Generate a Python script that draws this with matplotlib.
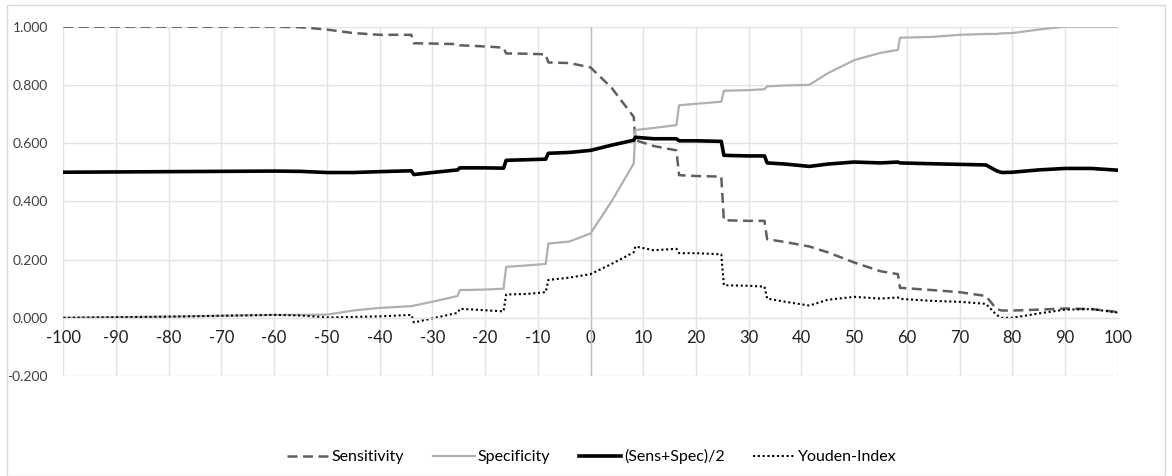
import matplotlib
matplotlib.use("Agg")
import matplotlib.pyplot as plt
from matplotlib.patches import Rectangle
import numpy as np

plt.rcParams['font.family'] = ['Lato', 'DejaVu Sans']

# Schwellenwerte (x) und die vier Kurven
x = [-100, -90, -80, -70, -60, -55, -50, -45, -40, -34, -33.5, -30, -25.2, -24.8,
     -20, -16.5, -16, -12, -8.5, -8, -4, 0, 4, 8.2, 8.5, 12, 16.3, 16.8, 20,
     24.8, 25.3, 30, 33, 33.5, 37, 41.5, 45, 50, 55, 58.3, 58.7, 65, 70, 75,
     77, 78, 80, 85, 90, 95, 100]

sensitivity = [1.0, 1.0, 1.0, 1.0, 1.0, 0.998, 0.99, 0.978, 0.972, 0.972, 0.943,
               0.942, 0.94, 0.936, 0.932, 0.928, 0.908, 0.907, 0.905, 0.877,
               0.875, 0.86, 0.79, 0.69, 0.61, 0.59, 0.575, 0.49, 0.487, 0.485,
               0.335, 0.333, 0.333, 0.27, 0.26, 0.245, 0.225, 0.19, 0.16, 0.15,
               0.103, 0.095, 0.088, 0.075, 0.03, 0.025, 0.025, 0.028, 0.032,
               0.03, 0.02]

specificity = [0.0, 0.002, 0.004, 0.007, 0.01, 0.01, 0.011, 0.025, 0.034, 0.04,
               0.042, 0.055, 0.075, 0.095, 0.097, 0.1, 0.175, 0.18, 0.185, 0.255,
               0.262, 0.29, 0.4, 0.53, 0.645, 0.652, 0.662, 0.73, 0.735, 0.742,
               0.78, 0.782, 0.785, 0.795, 0.798, 0.8, 0.84, 0.885, 0.91, 0.92,
               0.962, 0.965, 0.972, 0.975, 0.975, 0.977, 0.978, 0.99, 1.0, 1.0,
               1.0]

sens_spec_mean = [0.500, 0.501, 0.502, 0.503, 0.504, 0.503, 0.499, 0.499, 0.502,
                  0.505, 0.492, 0.499, 0.508, 0.515, 0.515, 0.514, 0.541, 0.543,
                  0.545, 0.565, 0.568, 0.575, 0.593, 0.61, 0.62, 0.615, 0.615,
                  0.608, 0.608, 0.606, 0.558, 0.556, 0.556, 0.532, 0.528, 0.52,
                  0.528, 0.535, 0.532, 0.535, 0.532, 0.529, 0.527, 0.525, 0.505,
                  0.499, 0.500, 0.508, 0.513, 0.513, 0.507]

youden = [0.0, 0.002, 0.004, 0.007, 0.01, 0.008, 0.001, 0.003, 0.005, 0.01,
          -0.016, -0.002, 0.017, 0.031, 0.026, 0.022, 0.08, 0.082, 0.088, 0.13,
          0.138, 0.15, 0.185, 0.225, 0.245, 0.232, 0.237, 0.222, 0.222, 0.218,
          0.112, 0.11, 0.107, 0.066, 0.055, 0.042, 0.062, 0.072, 0.066, 0.07,
          0.065, 0.058, 0.055, 0.048, 0.01, 0.0, 0.0, 0.015, 0.028, 0.03, 0.018]

x_ticks = list(range(-100, 101, 10))
y_ticks = [-0.2, 0.0, 0.2, 0.4, 0.6, 0.8, 1.0]

fig = plt.figure(figsize=(11.72, 4.76), dpi=100)
ax = fig.add_axes([0.054, 0.210, 0.8997, 0.734])

# Rahmen um das gesamte Diagramm
fig.patches.append(Rectangle((0.006, 0.0), 0.988, 0.99, transform=fig.transFigure,
                             fill=False, edgecolor='#d9d9d9', linewidth=1.0))

ax.plot(x, sensitivity, color='#5f5f5f', linewidth=1.8, linestyle=(0, (4, 2.2)),
        label='Sensitivity')
ax.plot(x, specificity, color='#b0b0b0', linewidth=1.6, label='Specificity')
ax.plot(x, sens_spec_mean, color='black', linewidth=2.6, label='(Sens+Spec)/2')
ax.plot(x, youden, color='black', linewidth=1.5, linestyle=(0, (1, 1.3)),
        label='Youden-Index')

# x-Achse liegt auf y=0 (vor dem Setzen der Beschriftung, sonst werden Ticks zurückgesetzt)
for side in ['top', 'right', 'left']:
    ax.spines[side].set_visible(False)
ax.spines['bottom'].set_position(('data', 0))
ax.spines['bottom'].set_color('#dfe3ea')

ax.set_xlim(-100, 100)
ax.set_ylim(-0.2, 1.0)
ax.set_xticks(x_ticks)
ax.set_yticks(y_ticks)
ax.set_yticklabels([f"{v:.3f}" for v in y_ticks])
ax.set_xticklabels([str(v) for v in x_ticks])
ax.tick_params(axis='both', length=0)
ax.tick_params(axis='x', pad=9, labelsize=12, labelcolor='#202020')
ax.tick_params(axis='y', pad=11, labelsize=10, labelcolor='#404040')

ax.grid(True, color='#dfe3ea', linewidth=1.0)
ax.set_axisbelow(True)
ax.axvline(0, color='#b8bfcc', linewidth=1.0, zorder=1)

fig.legend(loc='center', bbox_to_anchor=(0.505, 0.04), ncol=4, frameon=False,
           fontsize=11.5, handlelength=2.6, columnspacing=1.8, handletextpad=0.2)

fig.savefig('out.png', dpi=100)
